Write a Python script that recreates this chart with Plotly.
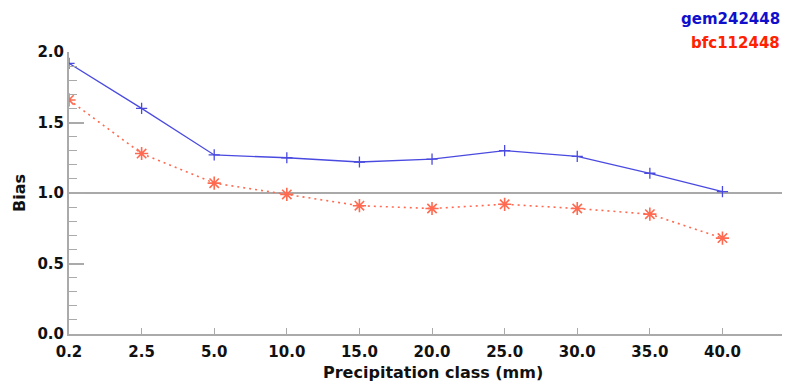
import plotly.graph_objects as go

categories = ["0.2", "2.5", "5.0", "10.0", "15.0", "20.0", "25.0", "30.0", "35.0", "40.0"]
gem_values = [1.92, 1.60, 1.27, 1.25, 1.22, 1.24, 1.30, 1.26, 1.14, 1.01]
bfc_values = [1.66, 1.28, 1.07, 0.99, 0.91, 0.89, 0.92, 0.89, 0.85, 0.68]
series_names = ["gem242448", "bfc112448"]
y_ticks = [0.0, 0.5, 1.0, 1.5, 2.0]

BLUE = "#2a2ad8"
RED = "#ff3a1e"
FONT = "DejaVu Sans"

fig = go.Figure()
fig.add_trace(go.Scatter(
    x=categories, y=gem_values, mode="lines+markers", name=series_names[0],
    line=dict(color="#4a4ae0", width=1.3),
    marker=dict(symbol="cross-thin-open", size=8, line=dict(color=BLUE, width=1.3)),
))
fig.add_trace(go.Scatter(
    x=categories, y=bfc_values, mode="lines+markers", name=series_names[1],
    line=dict(color="#ff6a50", width=1.6, dash="2px,4px"),
    marker=dict(symbol="asterisk-open", size=11, line=dict(color=RED, width=1.6)),
))

fig.add_shape(type="line", xref="paper", yref="y", x0=0, x1=1, y0=1.0, y1=1.0,
              line=dict(color="#555555", width=1.2), layer="below")

fig.add_annotation(xref="paper", yref="paper", x=1.0, y=1.0, yshift=33,
                   xanchor="right", yanchor="middle", showarrow=False,
                   text="<b>%s</b>" % series_names[0],
                   font=dict(family=FONT, size=15, color="#1010cc"))
fig.add_annotation(xref="paper", yref="paper", x=1.0, y=1.0, yshift=9,
                   xanchor="right", yanchor="middle", showarrow=False,
                   text="<b>%s</b>" % series_names[1],
                   font=dict(family=FONT, size=15, color="#ff2200"))
fig.add_annotation(xref="paper", yref="paper", x=0.51, y=0, yshift=-38,
                   xanchor="center", yanchor="middle", showarrow=False,
                   text="<b>Precipitation class (mm)</b>",
                   font=dict(family=FONT, size=16, color="#111111"))

fig.update_layout(
    width=790, height=383,
    margin=dict(l=69, r=8, t=52, b=49),
    paper_bgcolor="white", plot_bgcolor="white",
    showlegend=False,
    font=dict(family=FONT, size=15, color="#111111"),
    xaxis=dict(
        type="category", range=[0, 9.82],
        showline=True, linecolor="#aaaaaa", linewidth=2,
        ticks="inside", ticklen=6, tickcolor="#aaaaaa", tickwidth=1,
        showgrid=False, zeroline=False, ticklabelstandoff=3,
        tickfont=dict(family=FONT, size=15, color="#111111", weight="bold"),
    ),
    yaxis=dict(
        range=[0, 2.0], tickvals=y_ticks, ticktext=["%.1f" % v for v in y_ticks],
        showline=True, linecolor="#aaaaaa", linewidth=2,
        ticks="inside", ticklen=15, tickcolor="#aaaaaa", tickwidth=1.5,
        minor=dict(dtick=0.1, ticks="inside", ticklen=8, tickcolor="#aaaaaa", tickwidth=1.2, showgrid=False),
        showgrid=False, zeroline=False,
        tickfont=dict(family=FONT, size=15, color="#111111", weight="bold"),
        title=dict(text="<b>Bias</b>", standoff=8,
                   font=dict(family=FONT, size=16, color="#111111")),
    ),
)

fig.write_html("out.html")
